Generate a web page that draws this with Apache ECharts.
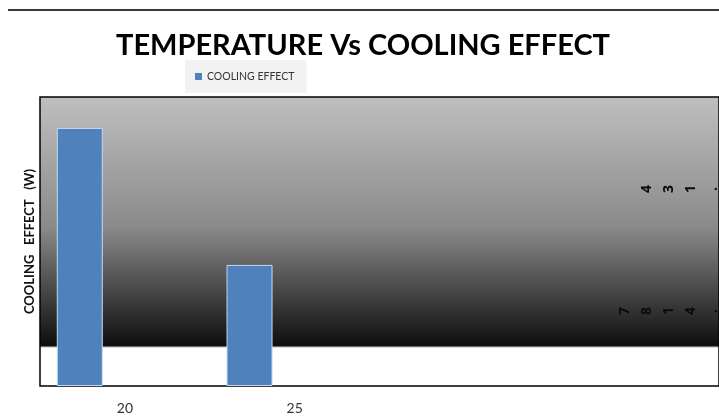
<!DOCTYPE html>
<html>
<head>
<meta charset="utf-8">
<script src="https://cdn.jsdelivr.net/npm/echarts@6/dist/echarts.min.js"></script>
<style>
  html, body { margin: 0; padding: 0; background: #fff; }
  #chart { width: 719px; height: 418px; }
</style>
</head>
<body>
<div id="chart"></div>
<script>
const temperatures = ['20', '25', '', '']
const coolingEffect = [89.3, 41.9, null, null]
// stray rotated label glyphs at the right edge of the plot
const upperLabelChars = ['4', '3', '1', '.']
const lowerLabelChars = ['7', '8', '1', '4', '.']

const chart = echarts.init(document.getElementById('chart'))

function glyphRow(chars, rightX, y) {
  const step = 22
  return chars.map((ch, i) => ({
    type: 'text',
    x: rightX - (chars.length - 1 - i) * step,
    y,
    rotation: Math.PI / 2,
    style: {
      text: ch,
      fill: '#0a0a0a',
      font: 'bold 14px "Open Sans", sans-serif',
      align: 'center',
      verticalAlign: 'middle'
    }
  }))
}

chart.setOption({
  animation: false,
  backgroundColor: '#fff',
  title: {
    text: 'TEMPERATURE Vs COOLING EFFECT',
    left: 358,
    top: 26,
    textAlign: 'center',
    textStyle: { fontFamily: 'Lato', fontWeight: 'bold', fontSize: 29, color: '#000' }
  },
  legend: {
    data: ['COOLING EFFECT'],
    left: 185,
    top: 60,
    padding: [11, 12, 11, 10],
    backgroundColor: '#f2f2f2',
    itemWidth: 7,
    itemHeight: 7,
    itemGap: 4,
    icon: 'rect',
    itemStyle: { borderWidth: 0 },
    textStyle: { fontFamily: 'Lato', fontSize: 10.5, color: '#333' }
  },
  grid: {
    left: 40,
    top: 97,
    width: 680,
    height: 289,
    show: true,
    borderColor: '#000',
    borderWidth: 1.5,
    backgroundColor: new echarts.graphic.LinearGradient(0, 0, 0, 1, [
      { offset: 0, color: '#bfbfbf' },
      { offset: 0.45, color: '#8a8a8a' },
      { offset: 0.858, color: '#0e0e0e' },
      { offset: 0.862, color: '#7a7a7a' },
      { offset: 0.866, color: '#ffffff' },
      { offset: 1, color: '#ffffff' }
    ])
  },
  xAxis: {
    type: 'category',
    data: temperatures,
    axisLine: { show: false },
    axisTick: { show: false },
    axisLabel: { margin: 15, fontFamily: 'Lato', fontSize: 14, color: '#333' }
  },
  yAxis: {
    type: 'value',
    min: 0,
    max: 100,
    name: 'COOLING   EFFECT   (W)',
    nameLocation: 'middle',
    nameRotate: 90,
    nameGap: 4,
    nameTextStyle: { fontFamily: 'Lato', fontWeight: 'bold', fontSize: 13, color: '#111' },
    axisLine: { show: false },
    axisTick: { show: false },
    axisLabel: { show: false },
    splitLine: { show: false }
  },
  series: [
    {
      name: 'COOLING EFFECT',
      type: 'bar',
      data: coolingEffect,
      barWidth: 46,
      barGap: '96%',
      itemStyle: { color: '#4f81bd', borderColor: '#c6d9ee', borderWidth: 1 }
    },
    {
      name: 'spacer',
      type: 'bar',
      data: [null, null, null, null],
      barWidth: 46
    }
  ],
  graphic: [
    {
      type: 'line',
      shape: { x1: 8, y1: 10, x2: 719, y2: 10 },
      style: { stroke: '#3a3a3a', lineWidth: 2 }
    },
    ...glyphRow(upperLabelChars, 713, 189),
    ...glyphRow(lowerLabelChars, 713, 311)
  ]
})
</script>
</body>
</html>
